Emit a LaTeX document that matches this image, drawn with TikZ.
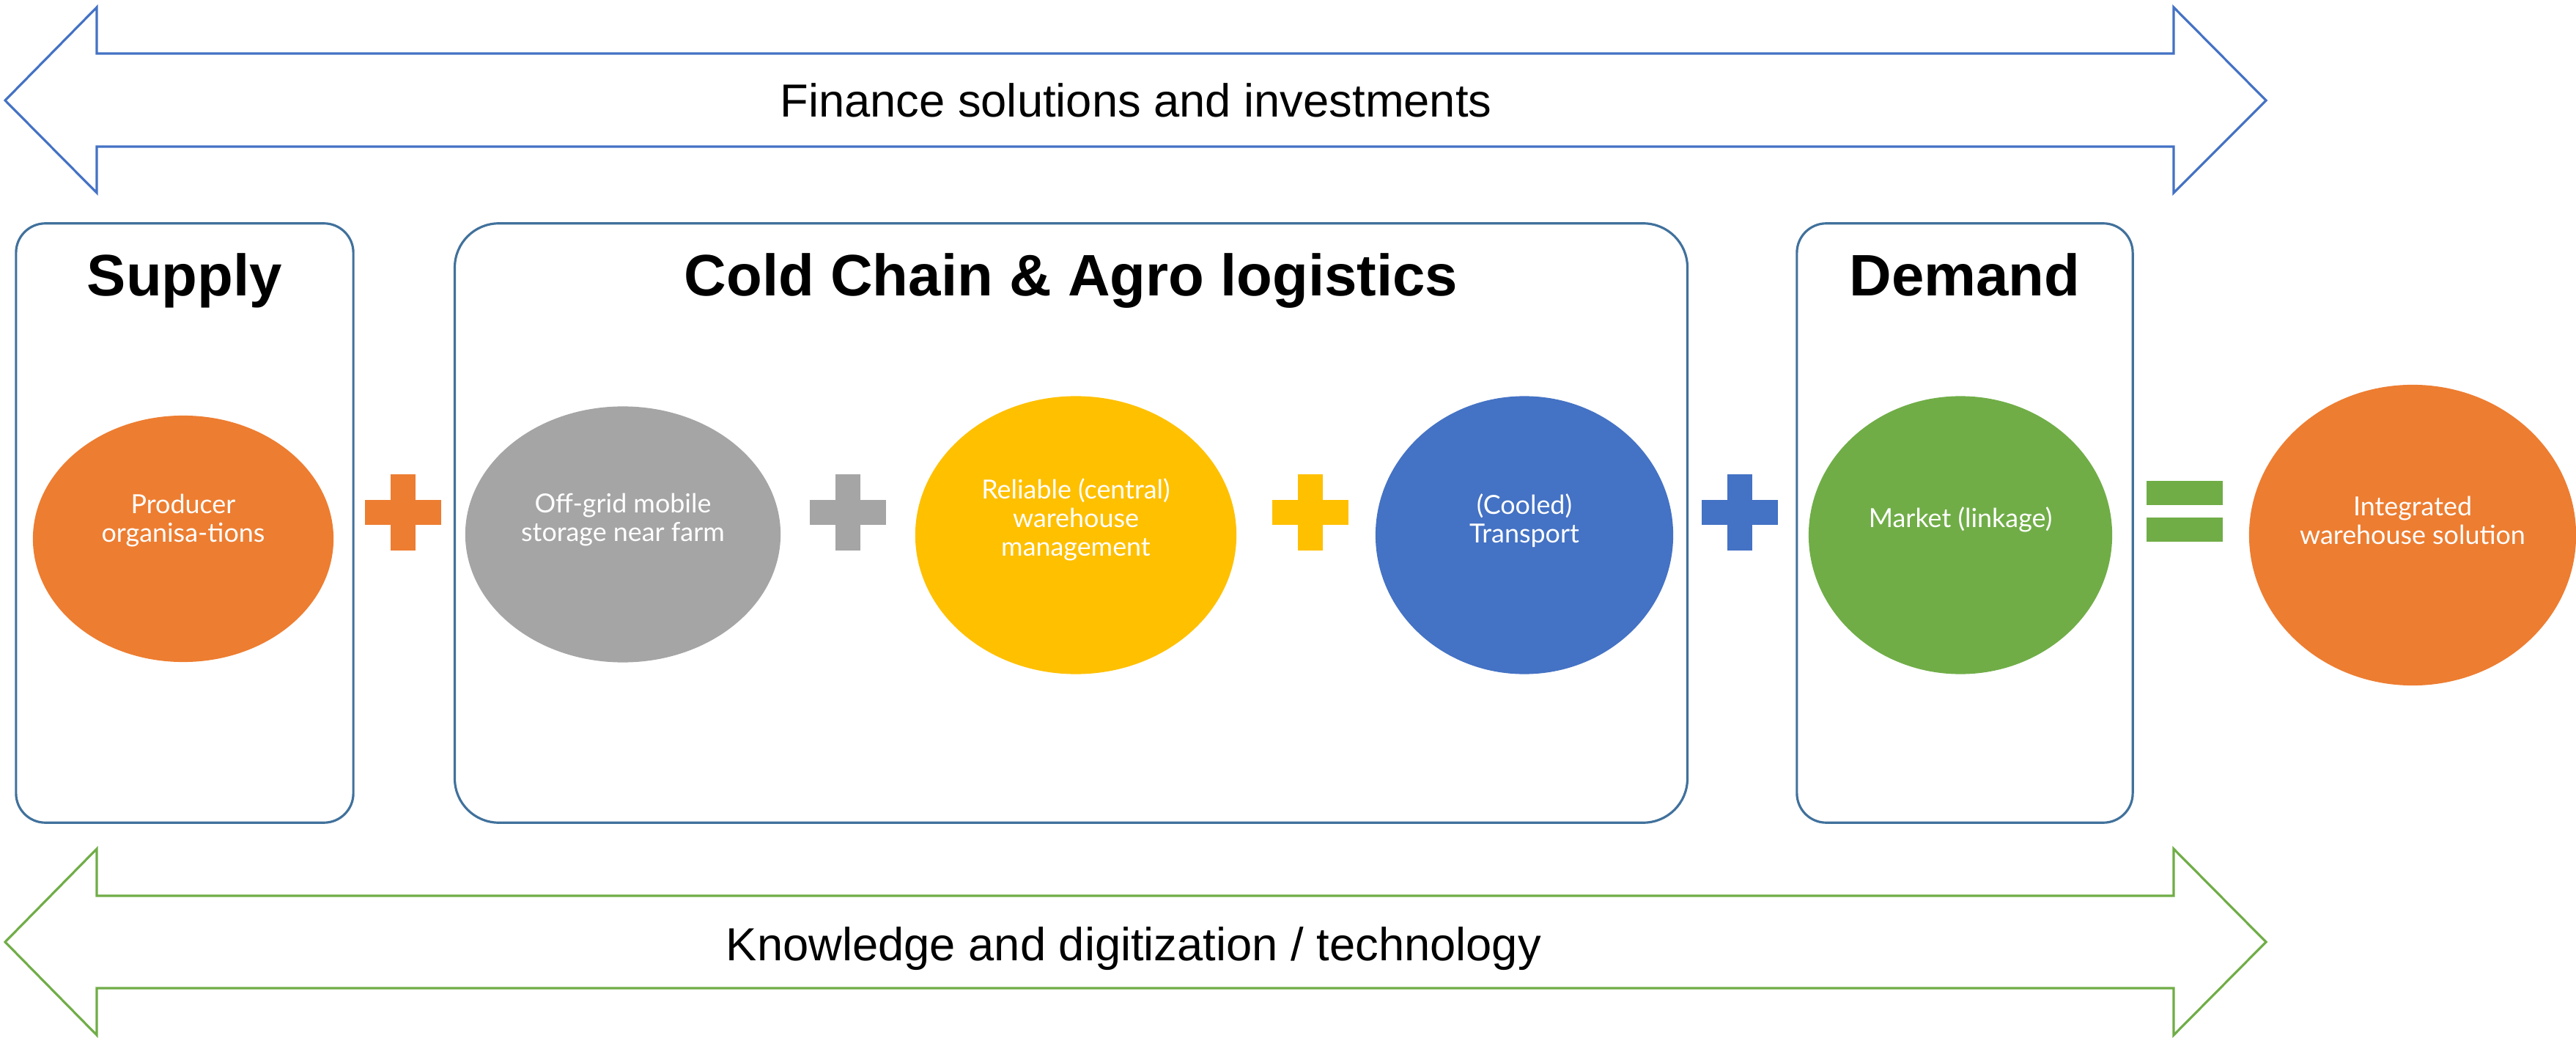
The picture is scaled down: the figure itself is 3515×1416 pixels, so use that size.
\documentclass[tikz,border=0pt]{standalone}
\usepackage{fontspec}
\setmainfont{Liberation Sans}
\newfontfamily\blobfont{Lato}
\usetikzlibrary{positioning,shapes.geometric}

\definecolor{frameblue}{HTML}{41719C}
\definecolor{accblue}{HTML}{4472C4}
\definecolor{accorange}{HTML}{ED7D31}
\definecolor{accgrey}{HTML}{A5A5A5}
\definecolor{accyellow}{HTML}{FFC000}
\definecolor{accgreen}{HTML}{70AD47}

\begin{document}
\begin{tikzpicture}[x=0.01cm,y=-0.01cm,line join=miter,
  panel/.style={draw=frameblue,line width=0.9pt,inner sep=0,rounded corners=0.4cm},
  heading/.style={anchor=base,font=\fontsize{22.7}{27}\selectfont\bfseries},
  band/.style={anchor=base,font=\fontsize{18}{22}\selectfont},
  blob/.style={ellipse,inner sep=0},
  blob text/.style={text=white,align=center,font=\blobfont\fontsize{10.2}{11.1}\selectfont}]

\useasboundingbox (0,0) rectangle (3515,1416);

% two band arrows
\draw[accblue,line width=0.9pt] (7,137) -- (132,10) -- (132,73) -- (2966,73) -- (2966,10)
  -- (3092,137) -- (2966,263) -- (2966,200) -- (132,200) -- (132,263) -- cycle;
\draw[accgreen,line width=0.9pt] (7,1285) -- (132,1158) -- (132,1222) -- (2966,1222) -- (2966,1158)
  -- (3092,1285) -- (2966,1412) -- (2966,1348) -- (132,1348) -- (132,1412) -- cycle;
\node[band] (finance) at (1550,160) {Finance solutions and investments};
\node[band] (knowledge) at (1547,1310) {Knowledge and digitization / technology};

% panels
\node[panel,minimum width=4.6cm,minimum height=8.17cm] (supply) at (252,713.5) {};
\node[panel,minimum width=16.81cm,minimum height=8.17cm,rounded corners=0.6cm] (chain) at (1461.5,713.5) {};
\node[panel,minimum width=4.58cm,minimum height=8.17cm] (demand) at (2681,713.5) {};
\node[heading] (supplyhead) at ([yshift=-1.0cm]supply.north) {Supply};
\node[heading] (chainhead) at ([yshift=-1.0cm]chain.north) {Cold Chain \& Agro logistics};
\node[heading] (demandhead) at ([yshift=-1.0cm]demand.north) {Demand};

% ellipses
\node[blob,fill=accorange,minimum width=4.1cm,minimum height=3.36cm] (producer) at (250,735) {};
\node[blob,fill=accgrey,minimum width=4.3cm,minimum height=3.49cm] (storage) at (850,729) {};
\node[blob,fill=accyellow,minimum width=4.38cm,minimum height=3.79cm] (warehouse) at (1468,730) {};
\node[blob,fill=accblue,minimum width=4.06cm,minimum height=3.79cm] (transport) at (2080,730) {};
\node[blob,fill=accgreen,minimum width=4.14cm,minimum height=3.79cm] (market) at (2675,730) {};
\node[blob,fill=accorange,minimum width=4.46cm,minimum height=4.1cm] (result) at (3292,730) {};
\node[blob text] (producertext) at ([yshift=0.25cm]producer.center) {Producer\\organisa-tions};
\node[blob text] (storagetext) at ([yshift=0.2cm]storage.center) {Off-grid mobile\\storage near farm};
\node[blob text] (warehousetext) at ([yshift=0.21cm]warehouse.center) {Reliable (central)\\warehouse\\management};
\node[blob text] (transporttext) at ([yshift=0.2cm]transport.center) {(Cooled)\\Transport};
\node[blob text] (markettext) at ([yshift=0.21cm]market.center) {Market (linkage)};
\node[blob text] (resulttext) at ([yshift=0.2cm]result.center) {Integrated\\warehouse solution};

% plus and equals signs
\foreach \x/\c in {550/accorange,1157/accgrey,1788/accyellow,2374/accblue}{
  \fill[\c] (\x-52,682) rectangle (\x+52,716);
  \fill[\c] (\x-17,647) rectangle (\x+17,751);
}
\fill[accgreen] (2929,656) rectangle (3033,689);
\fill[accgreen] (2929,706) rectangle (3033,739);
\end{tikzpicture}
\end{document}
